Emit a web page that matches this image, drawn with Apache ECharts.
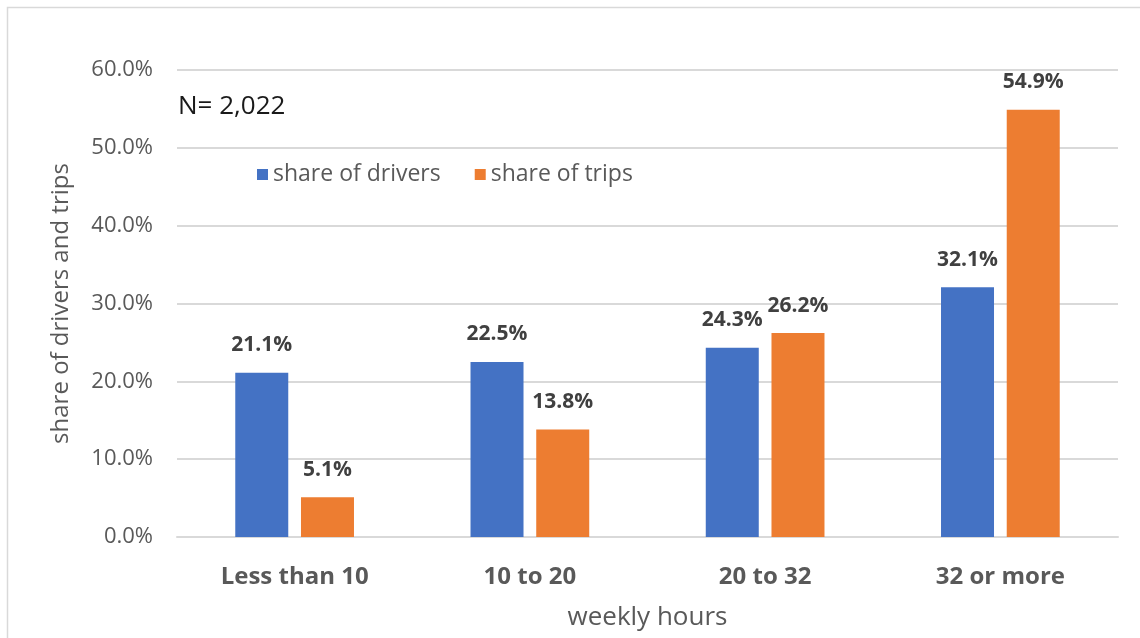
<!DOCTYPE html>
<html>
<head>
<meta charset="utf-8">
<script src="https://cdn.jsdelivr.net/npm/echarts@6/dist/echarts.min.js"></script>
<style>
  html, body { margin: 0; padding: 0; background: #fff; }
  #main { width: 1140px; height: 638px; }
</style>
</head>
<body>
<div id="main"></div>
<script>
var categories = ["Less than 10", "10 to 20", "20 to 32", "32 or more"]
var shareOfDrivers = [21.1, 22.5, 24.3, 32.1]
var shareOfTrips = [5.1, 13.8, 26.2, 54.9]
var yTicks = [0, 10, 20, 30, 40, 50, 60]

var chartDom = document.getElementById("main")
var myChart = echarts.init(chartDom)
var font = "'Open Sans', Lato, sans-serif"
var option

var barLabel = {
  show: true,
  position: "top",
  distance: 17,
  color: "#404040",
  fontSize: 21,
  fontWeight: "bold",
  fontFamily: font,
  formatter: function (p) { return p.value.toFixed(1) + "%" }
}

option = {
  animation: false,
  textStyle: { fontFamily: font },
  graphic: [
    {
      type: "rect",
      shape: { x: 7.5, y: 7.5, width: 1200, height: 700 },
      style: { fill: "none", stroke: "#d9d9d9", lineWidth: 1.5 }
    },
    {
      type: "text",
      left: 178,
      top: 94,
      style: { text: "N= 2,022", fill: "#1a1a1a", font: "26px " + font }
    }
  ],
  legend: {
    left: 252,
    top: 158,
    itemWidth: 11,
    itemHeight: 11,
    itemGap: 34,
    icon: "rect",
    textStyle: { color: "#595959", fontSize: 23, fontFamily: font },
    data: ["share of drivers", "share of trips"]
  },
  grid: {
    left: 177,
    right: 22,
    top: 70,
    bottom: 101
  },
  xAxis: {
    type: "category",
    data: categories,
    name: "weekly hours",
    nameLocation: "middle",
    nameGap: 68,
    nameTextStyle: { color: "#595959", fontSize: 26, fontFamily: font },
    axisTick: { show: false },
    axisLine: { lineStyle: { color: "#d9d9d9", width: 2 } },
    axisLabel: { color: "#595959", fontSize: 24, fontWeight: "bold", margin: 28, fontFamily: font }
  },
  yAxis: {
    type: "value",
    min: yTicks[0],
    max: yTicks[yTicks.length - 1],
    interval: 10,
    name: "share of drivers and trips",
    nameLocation: "middle",
    nameGap: 104,
    nameTextStyle: { color: "#595959", fontSize: 24, fontFamily: font },
    axisLabel: {
      color: "#595959",
      fontSize: 22,
      margin: 24,
      fontFamily: font,
      formatter: function (v) { return v.toFixed(1) + "%" }
    },
    splitLine: { lineStyle: { color: "#d9d9d9", width: 2 } }
  },
  series: [
    {
      name: "share of drivers",
      type: "bar",
      data: shareOfDrivers,
      barWidth: 53,
      barGap: "24%",
      itemStyle: { color: "#4472C4" },
      label: barLabel
    },
    {
      name: "share of trips",
      type: "bar",
      data: shareOfTrips,
      barWidth: 53,
      barGap: "24%",
      itemStyle: { color: "#ED7D31" },
      label: barLabel
    }
  ]
}

option && myChart.setOption(option)
</script>
</body>
</html>
